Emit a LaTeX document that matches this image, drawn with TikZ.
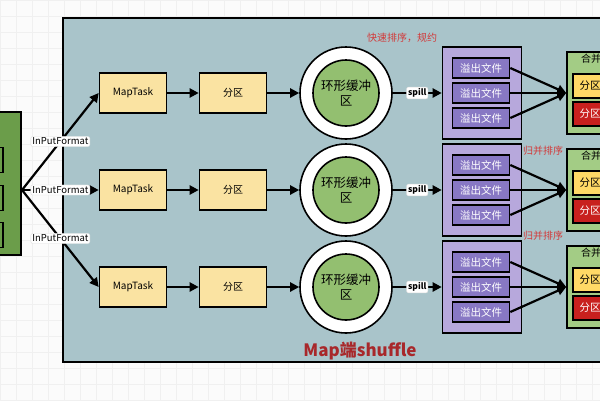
\documentclass[tikz,border=0pt]{standalone}
\usepackage{fontspec}
\setmainfont{Noto Sans CJK SC}
\usepackage{xcolor}
\usetikzlibrary{arrows.meta,positioning}
\definecolor{panel}{HTML}{A9C4CA}
\definecolor{taskfill}{HTML}{FAE3A2}
\definecolor{ringgreen}{HTML}{93BF70}
\definecolor{leftgreen}{HTML}{6B9D4A}
\definecolor{spillout}{HTML}{B7A8DC}
\definecolor{spillin}{HTML}{8878C4}
\definecolor{mergegreen}{HTML}{A3CC85}
\definecolor{partyellow}{HTML}{FFD966}
\definecolor{partred}{HTML}{C8201E}
\definecolor{notered}{HTML}{D23A3A}
\definecolor{titlered}{HTML}{A8282B}

\begin{document}
\begin{tikzpicture}[x=1pt, y=-1pt, line width=1.6pt,
    box/.style={draw, fill=taskfill, minimum width=67pt, minimum height=40pt, font=\fontsize{10}{11}\selectfont},
    arr/.style={-{Triangle[length=9pt,width=9pt]}, line width=2.2pt},
    tag/.style={fill=white, draw=gray!25, line width=0.4pt, rounded corners=2pt, inner sep=1.5pt, font=\fontsize{9.5}{10}\selectfont},
    file/.style={draw, fill=spillin, text=white, minimum width=57pt, minimum height=20pt, font=\fontsize{10.5}{11}\selectfont},
    note/.style={text=notered, font=\fontsize{10}{11}\selectfont}]
  \clip (0,0) rectangle (600,400);
  \fill[gray!3] (0,0) rectangle (600,400);
  \draw[gray!12, line width=0.5pt] (0,0) grid[step=16pt] (600,400);
  \draw[fill=panel, line width=2pt] (63,18) rectangle (620,362);

  % input files
  \node[draw, fill=leftgreen, minimum width=32pt, minimum height=143pt] (src) at (5,183.5) {};
  \node[draw, fill=leftgreen, minimum width=16pt, minimum height=25pt] (in1) at (-5,160) {};
  \node[draw, fill=leftgreen, minimum width=16pt, minimum height=25pt] (in2) at (-5,198) {};
  \node[draw, fill=leftgreen, minimum width=16pt, minimum height=25pt] (in3) at (-5,235) {};
  \coordinate (fork) at (22,190);

  \foreach \r/\y in {1/93, 2/190, 3/287} {
    \node[box] (mt\r) at (133,\y) {MapTask};
    \node[box] (fq\r) at (233,\y) {分区};
    \node[circle, draw, fill=white, minimum size=92pt] (ring\r) at (346,\y) {};
    \node[circle, draw, fill=ringgreen, minimum size=66pt, align=center,
          font=\fontsize{12.5}{15}\selectfont] (buf\r) at (346,\y) {环形缓冲\\区};
    \node[draw, fill=spillout, minimum width=79pt, minimum height=92pt] (pbox\r) at (482,\y) {};
    \foreach \k/\d in {1/-25, 2/0, 3/25}
      \node[file] (f\r-\k) at (481,\y+\d) {溢出文件};
    \node[draw, fill=mergegreen, minimum width=60pt, minimum height=82pt] (hb\r) at (597,\y) {};
    \node[font=\fontsize{10}{11}\selectfont] (hbt\r) at (591,\y-34) {合并};
    \node[draw, fill=partyellow, minimum width=50pt, minimum height=24pt] (py\r) at (598,\y-7) {};
    \node[draw, fill=partred, minimum width=50pt, minimum height=24pt] (pr\r) at (598,\y+21) {};
    \node[font=\fontsize{10.5}{11}\selectfont] (pyt\r) at (590,\y-7) {分区};
    \node[text=white, font=\fontsize{10.5}{11}\selectfont] (prt\r) at (590,\y+21) {分区};

    \draw[arr] (fork) -- node[tag] {InPutFormat} (mt\r.west);
    \draw[arr] (mt\r) -- (fq\r);
    \draw[arr] (fq\r) -- (ring\r);
    \draw[arr] (ring\r) -- node[tag, font=\fontsize{8.5}{9}\selectfont\bfseries] {spill} (pbox\r);
    \foreach \k in {1,2,3}
      \draw[arr] (f\r-\k.east) -- (hb\r.west);
  }

  \node[note] (sortnote) at (402,38) {快速排序，规约};
  \node[note] (mergenote1) at (543,151) {归并排序};
  \node[note] (mergenote2) at (543,236) {归并排序};
  \node[text=titlered, font=\fontsize{17}{19}\selectfont\bfseries] (title) at (360,351) {Map端shuffle};
\end{tikzpicture}
\end{document}
